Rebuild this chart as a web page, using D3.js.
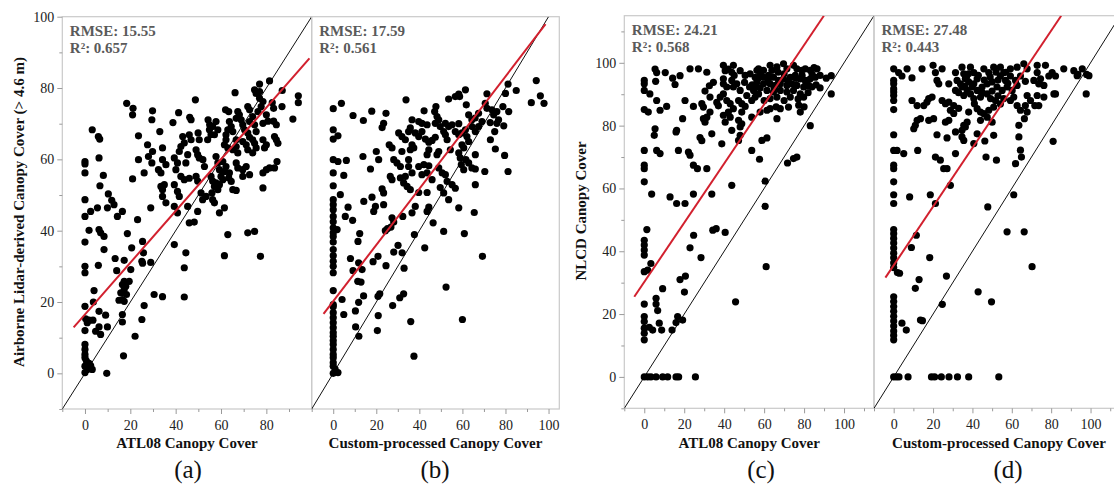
<!DOCTYPE html>
<html>
<head>
<meta charset="utf-8">
<script src="https://cdn.jsdelivr.net/npm/d3@7"></script>
<style>
  body { margin: 0; background: #fff; }
  svg { display: block; }
</style>
</head>
<body>
<div id="chart"></div>
<script>
// ---- data (x = ICESat-2 cover, y = reference cover) ----
const ptsA = [
  [81.4,82],[77,81.1],[74.8,79.5],[75.5,78.5],[77,79],[66.2,78.7],[87,79.3],[94.1,77.8],[94.1,75.9],[48.7,76.7],
  [18.4,75.7],[21.2,74.3],[21,72.5],[29.8,73.6],[29.5,71.1],[41.3,73.1],[46.2,71.8],[46.8,71.1],[38.8,70.3],[62,73.9],
  [63.4,73.4],[67.4,73.4],[68.1,72.5],[66.7,71.5],[68.9,71.1],[71.8,74.8],[72.6,73.9],[77,77.1],[78.5,76.2],[77.7,74.8],
  [76.3,73.4],[82.6,75.9],[83.2,74.3],[86.9,74.8],[91.7,71.3],[80,72.5],[80.7,70.7],[78.5,70.1],[83.2,70.7],[84.4,69.7],
  [74,72],[72.6,70.6],[74.8,69.7],[75.5,67.8],[69.6,69.7],[70.4,68.3],[71.8,67.4],[72.6,66.2],[74,65.5],[63.7,70.6],
  [64.5,69.2],[63,68.3],[65.2,67.8],[62.2,66.9],[57.8,70.6],[56.3,69.2],[58.6,68.3],[57.1,66.9],[54.3,71.1],[55,69.7],
  [78.5,65.5],[80,64.1],[79.2,63.2],[83.6,66.4],[84.4,65.5],[85.1,64.5],[74.8,64.5],[75.5,63.2],[74,61.8],[69.6,65],
  [71.1,64.1],[71.8,62.7],[66.7,65.5],[66.7,63.6],[65.2,62.7],[67.4,61.8],[62.2,65.5],[61.5,64.1],[63,63.2],[54.9,68.3],
  [55.6,66.9],[54.1,65.5],[49.9,67.4],[50.4,65.5],[46,66.9],[46.8,65.5],[43.1,66.4],[43.8,64.6],[33,67.8],[42.3,63.6],
  [41.6,62.2],[34.2,63.2],[27.6,64.1],[23.6,66.6],[29.8,62.2],[34.2,59.9],[35.7,58.5],[23.6,59.9],[28,60.8],[29.5,59],
  [39.4,60.4],[40.8,59],[40.1,57.1],[45.3,61.3],[44.5,59],[49,62.7],[49.7,61.3],[50.4,60.4],[52,59.9],[52.7,58],
  [57.8,60.8],[58.6,59],[59.3,57.1],[60.8,59.4],[62.2,58],[61.5,56.6],[63.7,56.2],[66.7,59],[67.4,57.6],[69.6,57.1],
  [71.1,58],[78.5,56.2],[80,57.1],[81.4,57.6],[83.6,57.6],[84.7,59.4],[72.6,55.7],[69.6,55.2],[32.4,57.1],[33.5,56.2],
  [26.1,56.2],[42.3,55.2],[43.8,54.3],[46,54.7],[49,55.2],[49.7,53.9],[55.6,55.2],[56.3,53.9],[57.1,52.4],[57.8,53.4],
  [59.3,52.9],[58.6,51.5],[60,55.2],[60.8,54.3],[63.4,54.8],[64.5,53.8],[65.2,51.5],[66.7,51.3],[78.5,52],[33.5,52.4],
  [34.2,51.5],[35,52.9],[39.4,52.9],[40.8,51],[41.6,49.6],[34.2,49.6],[35.7,47.8],[51.2,50.6],[51.9,48.7],[53.4,49.6],
  [56,50.6],[56.3,48.7],[57.1,47.8],[61.5,46.4],[59.3,45],[45.3,46.8],[49.7,45.4],[39.4,46.8],[40.8,45],[29,46.4],
  [23.2,43.1],[21,54.5],[8.1,55.5],[6.6,52.6],[6.2,60.4],[3.2,68.3],[5.9,66.4],[6.5,65.7],[0,59.4],[0,58.7],
  [0,56.2],[0,48.7],[0,44],[2.5,45.4],[5.5,46.4],[10.3,50.3],[11.8,48.5],[12.8,47.3],[9.9,46.4],[14.3,44],
  [16.5,45.4],[1.8,40.1],[6.2,40.3],[6.9,39.4],[8.4,38.4],[18.7,39.2],[25.4,37],[63,38.9],[71.8,39.4],[74.8,39.8],
  [46,42.2],[48.2,42.4],[0,36.8],[8.4,34.7],[25.8,33.8],[25.1,31.4],[25.4,30.9],[29,31.1],[20.6,35.2],[13.3,32.2],
  [17.3,31.7],[39.4,36.1],[44.5,33.8],[61.5,33],[77.4,32.8],[0,30],[0,28.2],[5.9,30.3],[14,28.8],[20.2,29.1],
  [43.8,29.6],[17.3,25.8],[16.5,24.9],[19.5,25.8],[18,24.4],[17.3,23.5],[15.8,22.6],[18.3,22.1],[16.5,20.7],[15,20.5],
  [17.3,20.2],[4,23.2],[30.5,22.1],[34.2,21.5],[43.8,21.4],[3.7,20],[0,18.8],[6.2,17.4],[9.1,16.3],[26.1,19],
  [16.5,16.5],[16.5,14.4],[25.1,15.1],[0.3,15.3],[1.8,14.9],[3.5,14.9],[1,14.2],[0,12],[6.2,13],[9.9,13],
  [4.7,11.8],[6.9,10.9],[22.1,10.4],[0,8.1],[0,6.7],[0,5.3],[0,4.4],[0.6,3.5],[0,2],[1,1.1],
  [0,0.2],[2.5,2.2],[3.2,1.1],[1.8,2.8],[17,4.9],[9.6,0]
];

const ptsB = [
  [94.3,82.1],[81.2,81.1],[85,79.3],[80,78.5],[71.4,78.4],[61.4,79.5],[58.3,78.3],[56.7,77.6],[58.7,77.6],[53.6,76.9],
  [61.8,75.3],[33.8,76.7],[96.2,77.8],[97.9,75.7],[92,75.9],[0,74.2],[3.8,75.7],[9.2,72.3],[14,70.9],[17.9,73.5],
  [24.5,72.9],[23.4,70.1],[22.7,68.9],[0,68.3],[2.2,66.6],[0,65.7],[42.2,73.6],[47.7,74.8],[47.1,73.4],[48.2,72],
  [49,71.1],[47.4,70.1],[49.7,69.2],[36.6,71.1],[39.7,70.6],[41.2,70.1],[43.6,69.7],[52.1,70.1],[53.6,69.2],[55.2,69.7],
  [58.3,70],[62.9,72.5],[64.4,71.1],[65.9,71.6],[67.5,72.9],[70.6,75.7],[71.4,74.3],[73.7,73.9],[76,73.4],[78.8,74.8],
  [81.5,73.4],[74.5,72.5],[76.8,71.1],[72.9,70.3],[76,70.1],[79.2,69.4],[75,67.8],[73,65.5],[75.3,62.9],[79.6,61.1],
  [81.2,56.6],[35.8,68.8],[35,67.8],[38.1,67.4],[39.7,66.4],[41.2,67.8],[30.4,67.4],[31.9,66.4],[33.5,65.5],[42.8,65.7],
  [44.4,64.8],[45.9,65.3],[47.4,66.2],[51.3,67.8],[52.1,66.9],[52.9,65.5],[56.7,67.8],[58.3,66.9],[59.8,67.4],[61.4,68.3],
  [62.1,66.4],[62.9,65],[64.4,69.2],[66,67.8],[67.5,69.2],[69.1,70.6],[26,64.1],[27.3,63.2],[36.6,64.1],[37.4,63.2],
  [35.8,62.7],[31.9,62.2],[44.4,62.7],[43.6,61.3],[49,62.2],[48.2,61.3],[54.4,62.7],[58.3,61.8],[59,60.4],[59.8,64.1],
  [60.6,63.2],[61.6,59.9],[62.9,59],[64.4,57.6],[66,57.3],[59.5,58.5],[60.6,57.1],[66,61.3],[70.4,56.6],[20,62.2],
  [21.1,59.9],[13.8,60.8],[17.3,57.3],[0,59.9],[2.2,59.4],[6.1,59.7],[0,56.2],[4.9,55.5],[0,52.6],[3.3,50.1],
  [0,48.7],[0,47.3],[0,45.9],[0,44],[0,42.5],[0,40.8],[1.8,40.3],[0,39.4],[6.9,46.6],[5.6,44],
  [9,42.9],[12.3,39.2],[14.2,48.2],[18,49.4],[19.6,46.8],[18.8,45.4],[23.4,47.3],[23.4,50.6],[22.7,51.7],[26.5,55.2],
  [27.3,54.3],[28.1,59.9],[29.6,59],[31.2,58],[35,59.9],[35,58],[36.6,56.2],[33.5,55.2],[31.2,54.8],[32.7,53.4],
  [34.3,52.4],[35.8,51.5],[39.7,58],[42.1,58.5],[44.4,58.2],[41.2,55.7],[43.6,56.2],[45.9,54.3],[49,57.6],[50.6,56.2],
  [52.1,55.7],[52.9,53.8],[55.2,52.9],[56.7,51.9],[49.7,52.1],[51.3,50.6],[53.6,48.7],[43.6,50.7],[39.7,50.7],[66,52.9],
  [58.3,46.4],[65.5,45.1],[44.4,46.6],[43.6,45.4],[38.1,46.8],[36.6,45],[32.3,44],[27.3,43.6],[28.1,42.4],[26.8,41],
  [46.4,42.2],[51.3,39.8],[60.9,39.2],[37.7,38.9],[25.2,40.6],[24.2,40],[0,38.4],[0,36.8],[0,34.7],[0,33],
  [0,31.4],[0,30],[0,28.2],[11.5,37],[8,32.2],[11.8,31],[9.2,28.8],[13.4,29.1],[11.4,25.8],[12.9,25.6],
  [18.5,31.3],[20.8,32.8],[24.5,30.2],[28.1,34],[30.1,35.9],[32,33.8],[32.9,29.5],[42.5,35.2],[69.3,32.8],[0,23.2],
  [4.1,20.7],[0,19.3],[0,18.7],[0,17],[4.9,16.5],[10.3,17.5],[11.8,19.9],[14.1,21.7],[20.8,21.6],[21.6,22.3],
  [30.9,21.2],[32.7,22.3],[27.6,19],[20.9,16.2],[10.4,13],[11.9,10.4],[20.5,12],[36,14.5],[52.4,24.2],[60,15.1],
  [37.5,4.8],[0,15.6],[0,14.2],[0,12.8],[0,11.4],[0,10.4],[0,9.2],[0,8.1],[0,6.7],[0,5.3],
  [0,4.4],[0,3],[0,2],[0.9,1.1],[2.2,0.2],[0,0]
];

const ptsC = [
  [5.4,98],[6.2,96.9],[10.5,96.9],[14.2,95.1],[17.9,95.9],[15.4,93.1],[5.7,94.1],[0,94.4],[0,93.3],[0,91.2],
  [2.8,90.1],[22.9,98.1],[27.1,98.1],[31.3,97],[34.6,93.8],[32.6,92.7],[30.4,91],[39.6,99.2],[44.6,99.2],[40.5,97.5],
  [43.8,97],[48,97.5],[50.5,96],[39.6,94.9],[39.6,93.3],[41.3,92.3],[43.8,94.4],[44.6,92.3],[46.3,93.3],[48,91.2],
  [53,96.5],[55.5,95.4],[56.4,93.9],[57.2,98.1],[59.7,97.6],[63,99.2],[63.9,97.6],[66.4,98.7],[69.7,99.7],[71.4,98.1],
  [74.7,99.2],[76.4,98.1],[78.9,97.6],[80.6,98.1],[83.1,97.6],[86.5,98.1],[91.1,95.1],[93.6,95.9],[93.6,90.1],[59.7,95.4],
  [62.2,96],[64.7,95.4],[67.2,94.4],[69.7,94.9],[73.1,95.4],[75.6,96],[78.1,94.9],[80.6,94.4],[83.1,94.9],[85.6,95.4],
  [59.7,93.3],[63,93.3],[65.6,92.8],[68.1,93.3],[71.4,92.8],[73.9,93.3],[76.4,92.8],[79.8,92.3],[82.3,92.8],[83.9,92.3],
  [61.4,91.2],[64.7,90.7],[68.1,91.2],[71.4,90.7],[74.7,91.2],[78.1,90.1],[79.8,89.1],[73.1,89.1],[66.4,89.1],[63,88.6],
  [56.4,97.6],[58,96],[55.5,92.3],[65,92],[70,96.5],[72,94],[76,95],[79,96],[81,93.5],[84,96.5],
  [86,93],[88,96],[85,98.5],[67,97],[62,94.5],[57,95],[54,93],[45,96],[42,98],[88,92],
  [82,90.5],[77,88.5],[70,88],[66,86],[80,86],[60,88],[58,92],[50.2,93.8],[52.7,92.3],[54.7,91.2],
  [57.2,90.1],[55.5,89.1],[51.3,89.6],[53.8,88],[47.2,88],[48.8,87],[39.6,90.1],[38,89.1],[41.3,88],[43,87],
  [44.6,85.4],[42.1,84.3],[36.3,87.4],[37.1,86.3],[32.9,89.1],[20.4,88],[6.2,88],[11.2,86.1],[7.9,84.9],[0,85.1],
  [2,84.3],[24.6,86.1],[28.8,87],[29.6,85.9],[32.9,84.3],[31.3,82.7],[39.6,83.3],[43,82.7],[40.5,81.1],[47.2,81.7],
  [48.8,84.3],[50.5,86.1],[53.8,82.7],[58,84.3],[61.4,84.9],[63,85.4],[66.4,82.2],[68.1,85.4],[72.2,85.9],[77.3,86.5],
  [78.1,84.3],[83.1,80],[19.2,82.2],[16.2,78.5],[15.9,78],[29.6,82.2],[30.4,81.1],[5.4,79],[5,76.9],[48.8,80.6],
  [48,79.6],[43.8,78.5],[27.9,76.2],[28.8,75.2],[33.8,77.4],[38.8,74.2],[48,76.9],[47.2,75.3],[58.9,75.3],[61.4,76.1],
  [53.8,72.1],[57.7,69.3],[71.7,68.1],[74.7,69.5],[76.4,70],[0,72.1],[6.2,72.1],[7.9,71.1],[17.1,72.1],[22.1,71.6],
  [22.9,70.6],[0,67.4],[0,66.3],[24.6,67.4],[26.6,66.3],[31.3,66.3],[0,62.1],[3.7,58.2],[12.9,57.3],[16.2,55.2],
  [20.4,55.2],[24.6,58.2],[33.8,58.2],[43.8,61],[60.5,54.3],[1.3,46.9],[0,43.5],[0,42],[0,40.4],[0,38.8],
  [0,33.5],[1.7,34],[3.3,36.1],[24.7,45.1],[22.9,41.1],[28.4,38],[34.3,46.7],[36,47.2],[40.5,46],[60.5,62.3],
  [61,35.1],[45.7,23.9],[9.2,28.1],[5.9,25],[5.9,23.2],[6.7,21.1],[17.9,31],[20.6,32.1],[20.1,27],[0,23.2],
  [0,19.2],[0,17.6],[0,15.5],[0,13.9],[0,11.8],[2.5,15.8],[4.2,14.9],[7.5,17.1],[8.7,14.9],[13.9,14.9],
  [15.9,17.3],[16.7,19.2],[19.2,18.1],[0,0],[1.7,0],[3.3,0],[5.9,0],[9.2,0],[11.7,0],[15.9,0],
  [17.2,0],[25.6,0]
];

const ptsD = [
  [0,98.1],[0,94.4],[0,93.3],[0,91.7],[0,90.7],[0,89.6],[0,88],[0,85.1],[2.5,96.9],[4.2,95.8],
  [6.8,98.1],[9.3,95.2],[14.4,98.1],[20,99.2],[21.2,96.9],[24.6,98.1],[22,94.4],[22.9,93.3],[28,93.3],[31.4,96.9],
  [34.7,98.6],[35.6,96.5],[39,98.6],[40.7,96.9],[32.2,94.4],[33.9,93.3],[36.4,94.9],[38.1,93.9],[40.7,93.3],[42.4,94.9],
  [31.4,91.2],[34.7,92.3],[37.3,91.2],[39.8,92.3],[42.4,91.2],[44.9,92.3],[47.5,93.3],[50,93.9],[45.8,98.1],[48.3,96.9],
  [50.8,98.6],[54.2,98.6],[55.9,96.9],[59.3,98.1],[62.7,98.6],[66.1,99.7],[67.8,98.1],[54.2,95.8],[56.8,94.4],[59.3,95.8],
  [61.9,94.4],[64.4,95.8],[66.9,94.1],[52.5,92.3],[55.1,91.2],[57.6,92.3],[60.2,91.2],[62.7,92.8],[35.6,89.6],[39,90.1],
  [40.7,88.6],[44.1,89.1],[47.5,90.1],[49.2,88.6],[51.7,88],[54.2,86.9],[55.9,88.6],[59.3,88],[61,89.1],[72.9,99.2],
  [77.1,99.2],[80.5,96.9],[86.4,98.1],[91.5,97.5],[95.8,98.1],[99.2,95.9],[93.2,95.9],[72.9,96.9],[74.6,94.9],[71.2,94.4],
  [76.3,92.8],[73.7,93.3],[78.8,95.8],[82.2,95.8],[81.4,90.1],[82.2,90.1],[72.9,89.6],[76.3,89.1],[71.7,86.4],[73.7,86.4],
  [67.8,89.6],[69.5,88],[62.7,86.4],[64.4,84.9],[66.9,86.4],[67.8,84.3],[66.4,82.2],[63.6,80.1],[97.8,90.1],[9.3,88],
  [11.9,86.4],[15.3,86.4],[16.9,87.5],[17.8,88.6],[19.5,89.1],[24.6,88],[26.3,87],[28,87.5],[30.5,86.4],[28.8,84.9],
  [30.5,83.9],[33,85.5],[42.4,85.4],[44.1,84.3],[45.8,83.8],[48.3,84.9],[50.8,85.9],[38.1,84.3],[17.8,81.7],[20.3,82.2],
  [11.9,81.7],[13.6,82.2],[11,80.1],[10.2,79],[26.3,81.1],[28,81.7],[37.3,81.1],[35.6,80.1],[44.1,81.7],[47.5,82.7],
  [50,81.1],[31.4,78],[34.7,78.5],[36.4,79.6],[34.7,76.4],[35.6,75.3],[42.4,77.4],[50.8,76.9],[63.6,76.4],[64.4,72.2],
  [46.3,75.1],[40.7,74.3],[22,77.1],[27.1,76.1],[0,77.1],[0,72.1],[1.7,72.1],[5.1,71.1],[12.2,72.1],[21.2,70],
  [23.7,69],[31.4,71.1],[46.9,70],[52.2,69],[61.9,67.9],[25.4,66.3],[27.1,66.3],[81,75],[0,67.4],[0,66.3],
  [0,62.1],[0,58],[0,55.2],[8.1,57.3],[18.6,58],[21.2,55.2],[28.8,61],[47.8,54.1],[61,58],[0,46.9],
  [0,45.6],[0,44.1],[0,42.6],[0,41],[0,39.4],[0,37.9],[0,36.3],[0,34.8],[1.9,33.2],[3,33],
  [11.5,45.1],[9,41.2],[18.3,38],[12.9,31],[11,28.2],[26.8,32.1],[24.7,23.1],[0,25.5],[0,24],[0,22.4],
  [0,20.9],[0,19.3],[0,17.8],[0,16.2],[0,14.6],[0,13.2],[0,11.8],[4.2,17.1],[6.4,14.9],[13.6,18.1],
  [14.6,17.9],[42.9,27.1],[49.7,23.9],[57.6,46.2],[66.3,46.2],[70.3,35.1],[0,0],[1.4,0],[2.7,0],[7.3,0],
  [19.2,0],[20.8,0],[24.2,0],[28.1,0],[32.4,0],[38.1,0],[53.4,0],[98,96.3],[93.6,96.3],[64.9,70],
  [37,95.5],[43,96],[46,94.5],[49,95.5],[52,97],[53,94.5],[57,97],[58,93.5],[45,90.5],[50,91],
  [53,89.5],[41,87],[36,92.5],[33,90.5],[38,96.5]
];

// regression line end points (x, y)
const fitA = [[-5, 12.9], [99, 88.3]];
const fitB = [[-4.5, 16.7], [98.6, 97.9]];
const fitC = [[-5, 25.5], [89.9, 115]];
const fitD = [[-4.2, 31.6], [85.1, 115]];

const statsA = ["RMSE: 15.55", "R\u00b2: 0.657"];
const statsB = ["RMSE: 17.59", "R\u00b2: 0.561"];
const statsC = ["RMSE: 24.21", "R\u00b2: 0.568"];
const statsD = ["RMSE: 27.48", "R\u00b2: 0.443"];

const xTicksA = [0, 20, 40, 60, 80];
const xTicksB = [0, 20, 40, 60, 80, 100];
const xTicksCD = [0, 20, 40, 60, 80, 100];
const xMinor = [-10, 10, 30, 50, 70, 90, 110];
const yTicksAB = [0, 20, 40, 60, 80, 100];
const yTicksCD = [0, 20, 40, 60, 80, 100];
const yMinor = [-10, 10, 30, 50, 70, 90, 110];

const xTitles = ["ATL08 Canopy Cover", "Custom-processed Canopy Cover", "ATL08 Canopy Cover", "Custom-processed Canopy Cover"];
const tags = ["(a)", "(b)", "(c)", "(d)"];
const yTitleAB = "Airborne Lidar-derived Canopy Cover (> 4.6 m)";
const yTitleCD = "NLCD Canopy Cover";

// ---- layout ----
const panels = [
  { id: "a", pts: ptsA, fit: fitA, stats: statsA, xDom: [-10, 100], yDom: [-10, 100], x0: 62.3, x1: 311.7, y0: 16.7, y1: 409,
    xTicks: xTicksA, yTicks: yTicksAB, title: xTitles[0], tag: tags[0], tagX: 188, leftAxis: true },
  { id: "b", pts: ptsB, fit: fitB, stats: statsB, xDom: [-10, 105], yDom: [-10, 100], x0: 311.7, x1: 559.3, y0: 16.7, y1: 409,
    xTicks: xTicksB, yTicks: yTicksAB, title: xTitles[1], tag: tags[1], tagX: 435, leftAxis: false },
  { id: "c", pts: ptsC, fit: fitC, stats: statsC, xDom: [-10, 115], yDom: [-10, 115], x0: 624.3, x1: 874, y0: 15.7, y1: 408.3,
    xTicks: xTicksCD, yTicks: yTicksCD, title: xTitles[2], tag: tags[2], tagX: 761, leftAxis: true },
  { id: "d", pts: ptsD, fit: fitD, stats: statsD, xDom: [-10, 117], yDom: [-10, 115], x0: 874, x1: 1124, y0: 15.7, y1: 408.3,
    xTicks: xTicksCD, yTicks: yTicksCD, title: xTitles[3], tag: tags[3], tagX: 1008, leftAxis: false }
];

const svg = d3.select("#chart").append("svg")
  .attr("width", 1114)
  .attr("height", 487)
  .style("font-family", "'Liberation Serif', 'Times New Roman', serif");

const frameColor = "#c9c9c9";

function styleAxis(g, color) {
  g.select(".domain").remove();
  g.selectAll(".tick line").attr("stroke", "#9a9a9a");
  g.selectAll(".tick text").attr("fill", color).style("font-size", "14px")
    .style("font-family", "'Liberation Serif', 'Times New Roman', serif");
}

panels.forEach(p => {
  const x = d3.scaleLinear().domain(p.xDom).range([p.x0, p.x1]);
  const y = d3.scaleLinear().domain(p.yDom).range([p.y1, p.y0]);

  svg.append("clipPath").attr("id", "clip-" + p.id)
    .append("rect")
    .attr("x", p.x0).attr("y", p.y0)
    .attr("width", p.x1 - p.x0).attr("height", p.y1 - p.y0);

  // frame
  svg.append("rect")
    .attr("x", p.x0).attr("y", p.y0)
    .attr("width", p.x1 - p.x0).attr("height", p.y1 - p.y0)
    .attr("fill", "none").attr("stroke", frameColor).attr("stroke-width", 1.2);

  // x axis
  const xa = svg.append("g").attr("transform", `translate(0,${p.y1})`)
    .call(d3.axisBottom(x).tickValues(p.xTicks).tickSize(5).tickPadding(6));
  styleAxis(xa, "#222");
  const xm = svg.append("g").attr("transform", `translate(0,${p.y1})`)
    .call(d3.axisBottom(x).tickValues(xMinor.filter(v => v >= p.xDom[0] && v <= p.xDom[1])).tickSize(3).tickFormat(""));
  styleAxis(xm, "#222");

  if (p.leftAxis) {
    const ya = svg.append("g").attr("transform", `translate(${p.x0},0)`)
      .call(d3.axisLeft(y).tickValues(p.yTicks).tickSize(5).tickPadding(3));
    styleAxis(ya, "#222");
    const ym = svg.append("g").attr("transform", `translate(${p.x0},0)`)
      .call(d3.axisLeft(y).tickValues(yMinor.filter(v => v >= p.yDom[0] && v <= p.yDom[1])).tickSize(3).tickFormat(""));
    styleAxis(ym, "#222");
  }

  const plot = svg.append("g").attr("clip-path", `url(#clip-${p.id})`);

  // 1:1 line
  const lo = Math.max(p.xDom[0], p.yDom[0]);
  const hi = Math.min(p.xDom[1], p.yDom[1]);
  plot.append("line")
    .attr("x1", x(lo)).attr("y1", y(lo))
    .attr("x2", x(hi)).attr("y2", y(hi))
    .attr("stroke", "#111").attr("stroke-width", 1);

  // points
  plot.selectAll("circle.pt")
    .data(p.pts)
    .join("circle")
    .attr("class", "pt")
    .attr("cx", d => x(d[0]))
    .attr("cy", d => y(d[1]))
    .attr("r", 3.6)
    .attr("fill", "#000");

  // regression line
  plot.append("line")
    .attr("x1", x(p.fit[0][0])).attr("y1", y(p.fit[0][1]))
    .attr("x2", x(p.fit[1][0])).attr("y2", y(p.fit[1][1]))
    .attr("stroke", "#d2202e").attr("stroke-width", 2);

  // stats
  p.stats.forEach((s, i) => {
    svg.append("text")
      .attr("x", p.x0 + 7.5)
      .attr("y", p.y0 + 19.5 + i * 17)
      .attr("fill", "#5a5a5a")
      .style("font-size", "15px")
      .style("font-weight", "bold")
      .text(s);
  });

  // x title
  svg.append("text")
    .attr("x", (p.x0 + p.x1) / 2)
    .attr("y", 448)
    .attr("text-anchor", "middle")
    .attr("fill", "#111")
    .style("font-size", "15px")
    .style("font-weight", "bold")
    .text(p.title);

  // panel tag
  svg.append("text")
    .attr("x", p.tagX)
    .attr("y", 478)
    .attr("text-anchor", "middle")
    .attr("fill", "#111")
    .style("font-size", "25px")
    .text(p.tag);
});

// y titles
svg.append("text")
  .attr("transform", "translate(24,212) rotate(-90)")
  .attr("text-anchor", "middle")
  .attr("fill", "#111")
  .style("font-size", "15px")
  .style("font-weight", "bold")
  .text(yTitleAB);

svg.append("text")
  .attr("transform", "translate(586,211) rotate(-90)")
  .attr("text-anchor", "middle")
  .attr("fill", "#111")
  .style("font-size", "15px")
  .style("font-weight", "bold")
  .text(yTitleCD);
</script>
</body>
</html>
